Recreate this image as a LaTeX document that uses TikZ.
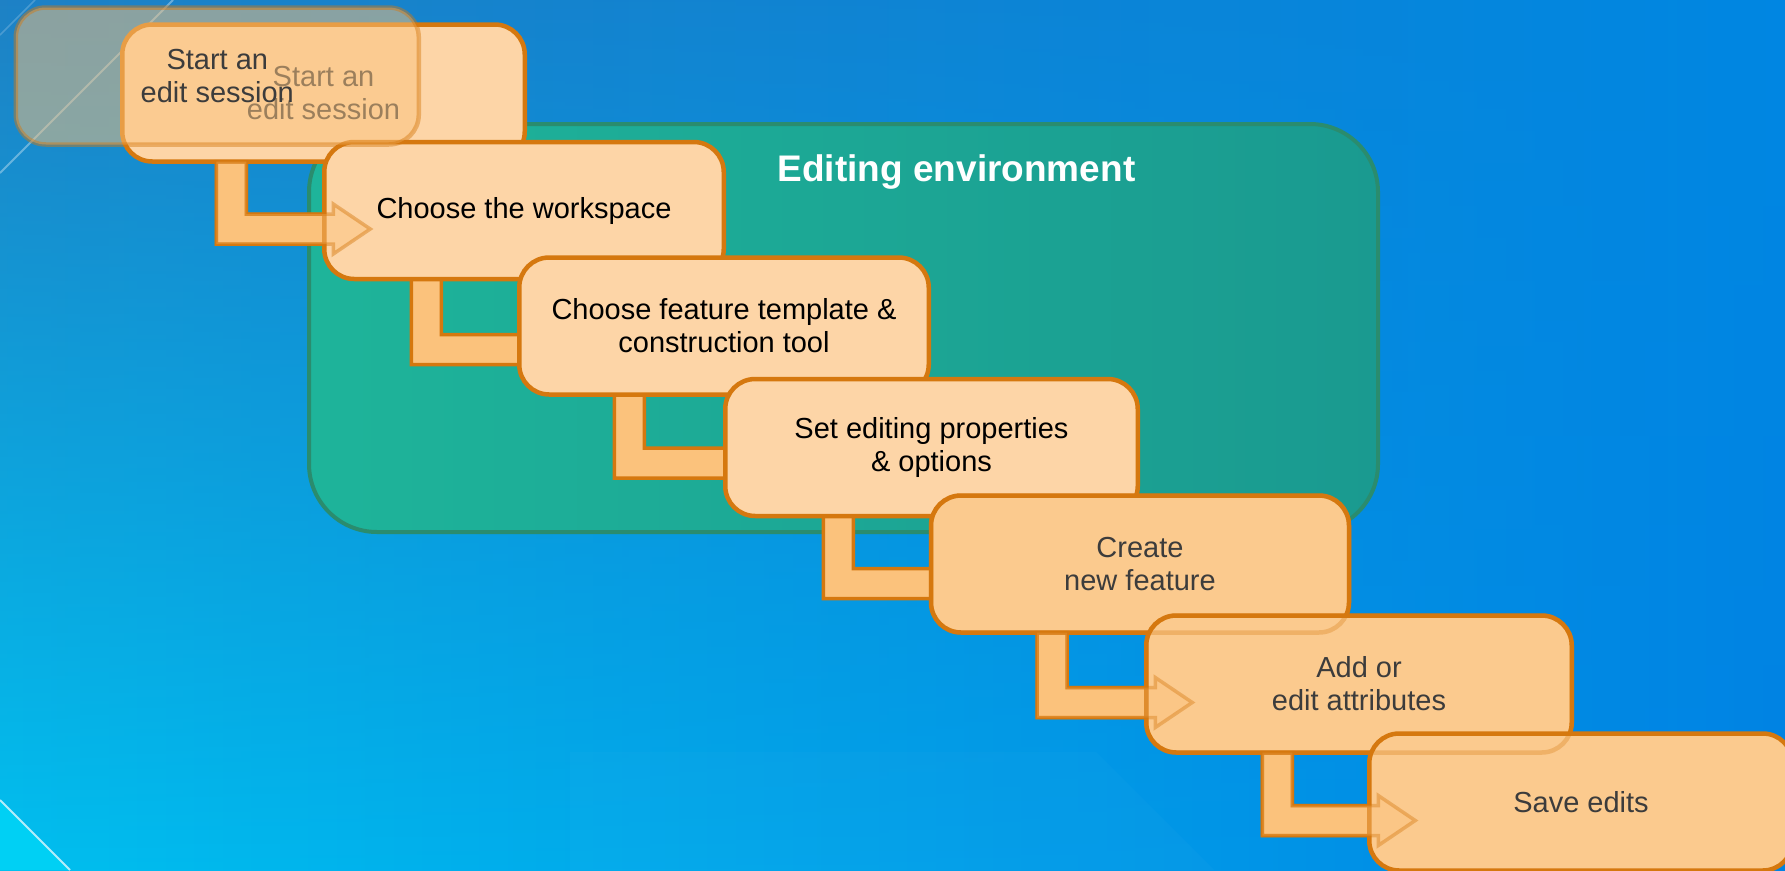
\documentclass[tikz,border=0pt]{standalone}
\usepackage{fontspec}
\setmainfont{Liberation Sans}
\usetikzlibrary{calc,fadings}

\definecolor{bgcyan}{HTML}{00C2F0}
\definecolor{bgdeep}{HTML}{0082E4}
\definecolor{bgsteel}{HTML}{1F80C4}
\definecolor{bgtop}{HTML}{0087E2}
\definecolor{bglight}{HTML}{00D0F4}
\definecolor{envleft}{HTML}{1EB49A}
\definecolor{envright}{HTML}{1A9A90}
\definecolor{envline}{HTML}{2A8C6E}
\definecolor{boxfill}{HTML}{FDD5A7}
\definecolor{boxdeep}{HTML}{FBCA8E}
\definecolor{boxline}{HTML}{D5780F}
\definecolor{flowfill}{HTML}{FBC27C}
\definecolor{ink}{HTML}{3C3C3C}

\pgfdeclarelayer{backdrop}
\pgfdeclarelayer{flow}
\pgfsetlayers{backdrop,flow,main}

\tikzfading[name=fadedown, top color=transparent!0, bottom color=transparent!100]

\tikzset{
  flowbox/.style={draw=boxline, fill=boxfill, line width=4.5pt, rounded corners=30pt,
    align=center, inner sep=0pt, outer sep=0pt, minimum height=137pt,
    font=\fontsize{29}{33}\selectfont},
  ghostbox/.style={fill=flowfill, fill opacity=0.5, draw opacity=0.45, text opacity=1, text=ink},
  latebox/.style={fill=boxdeep, text=ink},
  flowarrow/.style={draw=boxline, fill=flowfill, line width=3.5pt, line join=miter},
  envbox/.style={draw=envline, left color=envleft, right color=envright, line width=4pt,
    rounded corners=68pt, inner sep=0pt, outer sep=0pt},
}

% box: [extra style] name, centre x, centre y, width, text
\newcommand\flowstep[6][]{\node[flowbox, minimum width=#5, #1] (#2) at (#3,#4) {#6};}

% L-shaped block arrow: from bottom of #1 down, then right into #2
\newcommand\flowcoords[4]{
  \coordinate (#1top) at ($(#1.south west)+(#3,0)$);
  \coordinate (#1mid) at ($(#2.north west)+(0,#4)$);
  \coordinate (#1knee) at (#1top |- #1mid);
}
\newcommand\flowshape[2]{
  \draw[flowarrow, #2] ($(#1top)+(-15,0)$) -- ($(#1knee)+(-15,15)$) -- ($(#1mid)+(9,15)$)
    -- ($(#1mid)+(9,25)$) -- ($(#1mid)+(46,0)$) -- ($(#1mid)+(9,-25)$)
    -- ($(#1mid)+(9,-15)$) -- ($(#1knee)+(15,-15)$) -- ($(#1top)+(15,0)$) -- cycle;
}

\begin{document}
\begin{tikzpicture}[x=1pt, y=-1pt]
    \useasboundingbox (0,0) rectangle (1785,870);

    % backdrop
    \begin{pgfonlayer}{backdrop}
        \shade[left color=bgcyan, right color=bgdeep] (-20,-20) rectangle (1805,890);
        \shade[left color=bgsteel, right color=bgtop, path fading=fadedown] (-20,-20) rectangle (1805,890);
        \fill[white, opacity=0.018] (570,752) -- (1096,752) -- (1214,870) -- (570,870) -- cycle;
        \fill[bglight] (0,800) -- (70,870) -- (0,870) -- cycle;
        \draw[white, opacity=0.7, line width=2pt] (0,800) -- (70,870);
        \draw[white, opacity=0.35, line width=2pt] (0,173) -- (173,0);
        \draw[white, opacity=0.2, line width=1.5pt] (0,35) -- (35,0);

        % editing environment
        \node[envbox, minimum width=1069, minimum height=408] (env) at (843.5,328) {};
    \end{pgfonlayer}
    \node[anchor=base, text=white, font=\fontsize{37}{44}\selectfont\bfseries] (envtitle)
        at (956.5,181.5) {Editing environment};

    % steps
    \flowstep[text=ink]{b1}{323.5}{93}{402.5}{Start an\\edit session}
    \flowstep{b2}{524}{210.5}{399.5}{Choose the workspace}
    \flowstep[flowbox, ghostbox]{ghost}{217.3}{76}{403}{Start an\\edit session}
    \flowstep{b3}{724}{326}{409.5}{Choose feature template \&\\construction tool}
    \flowstep{b4}{931.5}{447.5}{412.5}{Set editing properties\\\& options}
    \flowstep[latebox]{b5}{1140}{564}{418}{Create\\new feature}
    \flowstep[latebox]{b6}{1359}{684}{425.5}{Add or\\edit attributes}
    \flowstep[latebox]{b7}{1581}{802}{423.5}{Save edits}

    % connectors between steps
    \flowcoords{b1}{b2}{109}{87}
    \flowcoords{b2}{b3}{102}{92}
    \flowcoords{b3}{b4}{110}{84}
    \flowcoords{b4}{b5}{113}{88}
    \flowcoords{b5}{b6}{121}{87}
    \flowcoords{b6}{b7}{131}{87}
    \begin{pgfonlayer}{flow}
        \flowshape{b1}{}
        \flowshape{b2}{}
        \flowshape{b3}{}
        \flowshape{b4}{}
        \flowshape{b5}{}
        \flowshape{b6}{}
    \end{pgfonlayer}

    % heads and edges seen through the upper boxes
    \flowshape{b1}{opacity=0.45}
    \flowshape{b5}{opacity=0.4}
    \flowshape{b6}{opacity=0.4}
    \draw[boxline, line width=4.5pt, rounded corners=30pt, opacity=0.3] (b5.south west) rectangle (b5.north east);
    \draw[boxline, line width=4.5pt, rounded corners=30pt, opacity=0.3] (b6.south west) rectangle (b6.north east);
\end{tikzpicture}
\end{document}
